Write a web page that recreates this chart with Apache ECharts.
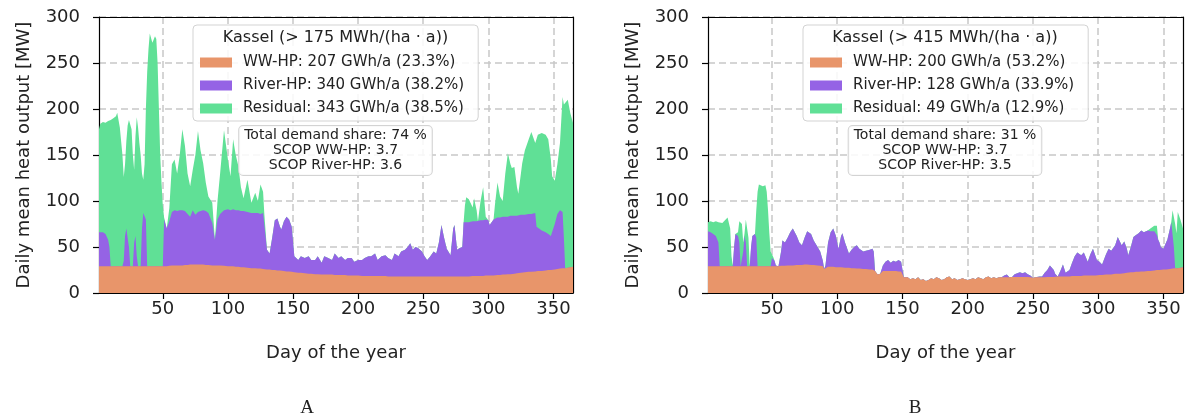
<!DOCTYPE html>
<html><head><meta charset="utf-8">
<script src="https://cdn.jsdelivr.net/npm/echarts@6/dist/echarts.min.js"></script>
<style>html,body{margin:0;padding:0;background:#fff}#c{width:1185px;height:419px}</style>
</head><body><div id="c"></div>
<script>
// ---------- Chart A: Kassel (> 175 MWh/(ha · a)) ----------
const daysA = [1,2,4,6,8,9,10,12,14,15,17,19,20,21,22,23,24,25,26,27,28,29,30,31,32,33,34,35,36,37,38,39,40,41,42,43,44,45,46,47,48,49,50,
51,53,55,57,59,61,63,65,67,69,71,73,75,77,79,81,83,85,88,90,92,94,97,100,102,104,106,108,110,112,115,118,121,123,125,127,128,
130,132,134,136,138,140,141,143,145,147,149,151,154,156,159,162,164,167,169,172,174,177,180,182,185,187,190,192,195,197,200,
203,205,208,210,213,215,218,221,223,226,228,231,233,236,238,240,242,244,246,249,251,253,255,258,260,262,264,266,268,271,273,274,276,278,280,
281,282,283,285,286,288,289,291,292,294,296,298,300,301,304,305,307,309,311,313,315,317,318,320,322,323,325,326,328,331,333,336,337,338,341,344,346,348,349,351,353,355,357,358,359,361,363,365];
const wwA = [29,29,29,29,29,29,29,29,29,29,29,29,29,29,29,29,29,29,29,29,29,29,29,29,29,29,29,29,29,29,29,29,29,29,29,29,29,29,29,29,29,29,29,
29,29,29.5,30,30,30,30,30,30.5,30.5,31,31,31,31,31,31,30.5,30.5,30,30,30,30,29.5,29,29,29,28.5,28.5,28,28,27.5,27,27,26.5,26.5,26,26,
25.5,25.5,25,25,24.5,24.5,24,24,23.5,23.5,23,22.5,22,22,21.5,21,21,20.5,20.5,20,20,20,20,19.5,19.5,19.5,19.5,19,19,19,19,
18.5,18.5,18.5,18.5,18.5,18.5,18.5,18.5,18,18,18,18,18,18,18,18,18,18,18,18,18,18,18,18,18,18,18,18,18,18,18,18,18,18,18,
18,18,18,18,18,18.5,18.5,18.5,18.5,18.5,18.5,19,19,19,19,19.5,19.5,19.5,20,20,20.5,20.5,21,21,21.5,21.5,22,22,22.5,23,23,23.5,23.5,24,24,24.5,25,25,25.5,25.5,26,26.5,27,27,27,27.5,28,28.5];
const riverA = [37,38,37,35,29,21,0,0,0,0,0,0,6,33,41,39,21,0,0,0,26,33,11,0,0,0,41,58,58,51,0,0,0,0,0,0,0,0,0,0,0,0,0,
51,41,48.5,58,60,59,60,60,58.5,55.5,52,59,54,57,58,59,58.5,56.5,46,28,50,56,60.5,62,61,62,61.5,61.5,61,61,60.5,60,60,60.5,59.5,61,59,
21.5,17.5,35,54,56.5,47.5,45,54,59.5,56.5,49,17.5,14,18,16.5,19,15,15.5,19.5,13,20,18,16,23.5,18.5,20.5,16.5,19,19,15,17,
17.5,19.5,21.5,21.5,24.5,17.5,21.5,22.5,20,18,25,22,27,29,32,36,29,32,31,27,22,18,21,27,25,37,56,42,30,23,52,56,29,31,32,
59,59,59,59,59,59.5,59.5,59.5,59.5,60.5,60.5,61,60,55,61,60.5,62.5,62.5,63,63,62.5,63.5,63,63,62.5,63.5,63,63,62.5,63,63,63.5,48.5,46,44,41.5,39,37,37.5,49.5,60,63.5,61,33,0,0,0,0];
const residualA = [112,117,120,121,129,136,159,161,163,167,151,121,91,78,95,114,138,157,149,121,79,108,151,151,134,121,60,36,53,120,211,236,253,254,243,241,250,247,221,171,121,91,66,
2,0,14,52,55,41,60,88,71,44,33,44,65,88,66,51,31,18,22,0,20,44,87,54,37,76,60,48,26,14,35,11,22,13,32,23,0,
0,0,0,0,0,0,0,0,0,0,0,0,0,0,0,0,0,0,0,0,0,0,0,0,0,0,0,0,0,0,0,
0,0,0,0,0,0,0,0,0,0,0,0,0,0,0,0,0,0,0,0,0,0,0,0,0,0,0,0,0,0,0,0,0,0,0,
0,18,27,25,23,15,25,12,0,21,36,3,0,0,0,15,38,23,17,47,69,56,52,53,31,23,45,56,70,81,89,76,93,102,106,106,103,83,64,47,54,73,125,145,176,182.5,167,156.5];

// ---------- Chart B: Kassel (> 415 MWh/(ha · a)) ----------
const daysB = [1,3,5,7,9,10,12,14,16,17,18,19,20,21,22,24,25,26,27,28,29,30,31,32,33,34,35,37,38,39,40,41,43,45,46,47,48,49,50,51,52,53,55,
57,58,60,62,64,66,67,69,71,73,75,77,78,80,82,85,87,89,90,91,93,95,97,99,101,103,104,106,109,111,113,115,117,120,122,125,127,128,129,131,133,135,137,139,141,143,145,147,149,150,151,
152,154,156,158,160,162,164,166,168,170,172,174,176,178,180,182,184,186,188,190,192,194,196,198,200,
202,204,206,208,210,212,214,216,218,220,222,224,226,228,230,232,234,236,238,240,242,244,246,248,250,
252,255,257,259,261,263,264,266,267,269,271,273,275,276,278,280,282,284,285,287,289,290,292,294,296,298,299,
301,303,304,306,308,310,311,313,315,317,318,320,322,323,325,327,329,331,333,335,336,338,
340,341,343,345,346,347,348,350,352,353,355,356,357,358,359,360,361,362,363,365];
const wwB = [29,29,29,29,29,29,29,29,29,29,29,29,29,29,29,29,29,29,29,29,29,29,29,29,29,29,29,29,29,29,29,29,29,29,29,29,29,29,29,29,29,29,29,
29.5,29.5,29.5,30,30,30,30,30.5,30.5,30.5,31,31,31,30.5,30.5,30,29.5,29,26,28,28.5,28.5,28.5,28,28,28,28,27.5,27.5,27,27,26.5,26.5,26,26,25.5,25.5,25,24,20,21,24,24,24,24,24,24,23.5,23.5,23,17,
16,17,15,16,15,17,14,15,13,14,16,15,17,16,14,15,17,18,15,16,14,15,16,15,14,
15,16,15,17,16,15,17,18,16,17,16,17,17,17,17,17,17.5,17.5,17.5,17.5,17.5,17.5,17.5,17,16.5,
17,17,17,17,17.5,17.5,17.5,17.5,17.5,18,18,18,18,18,18,18.5,18.5,18.5,18.5,18.5,19,19,19,19,19,19,19,
19.5,19.5,19.5,20,20,20,20.5,21,21,21,21.5,21.5,22,22,22.5,22.5,23,23,23.5,23.5,24,24,
24,24.5,24.5,25,25,25,25,25.5,25.5,26,26,26,26.5,26.5,27,27,27,27.5,27.5,28];
const riverB = [38,37,35,33,26,0,0,0,0,0,0,0,0,21,35,33,26,0,0,16,33,26,0,0,0,21,33,35,31,0,0,0,0,0,0,0,0,0,9,10,6,1,0,
15.5,27.5,25.5,30,36,40,40,31.5,24.5,21.5,29,36,38,33.5,26.5,20,15.5,6,0,2,26.5,37.5,41.5,34,20,34,37,27.5,15.5,20,23,25.5,21.5,19,20,21.5,22.5,20,0,0,0,6,10,12,9,11,10,12.5,10.5,10,0,
0,0,0,0,0,0,0,0,0,0,0,0,0,0,0,0,0,0,0,0,0,0,0,0,0,
0,0,0,0,0,0,0,0,0,0,0,0,0,2,3,0,0,3,4,5,4,5,3,2,0,
0,1,1,5,7.5,12.5,14.5,7.5,3.5,0,6,13,4,2,7,14.5,21.5,25.5,26.5,22.5,25,26,15,23,29,21,17,
14.5,11.5,11.5,22,28,26,24.5,31,40,34,30.5,34.5,26,19,27.5,38.5,40,42,44.5,42.5,40,44,
43,41.5,42.5,38,33,30,25,22.5,29.5,32,44,51,48.5,23.5,0,0,0,0,0,0];
const residualB = [10,12,13,16,22,49,47,50,53,54,41,11,1,0,0,4,23,50,46,10,3,25,53,31,0,0,0,0,30,81,89,90,87,88,81,61,36,16,4,0,0,0,0,
0,0,0,0,0,0,0,0,0,0,0,0,0,0,0,0,0,0,0,0,0,0,0,0,0,0,0,0,0,0,0,0,0,0,0,0,0,0,0,0,0,0,0,0,0,0,0,0,0,0,0,
0,0,0,0,0,0,0,0,0,0,0,0,0,0,0,0,0,0,0,0,0,0,0,0,0,
0,0,0,0,0,0,0,0,0,0,0,0,0,0,0,0,0,0,0,0,0,0,0,0,0,
0,0,0,0,0,0,0,0,0,0,0,0,0,0,0,0,0,0,0,0,0,0,0,0,0,0,0,
0,0,0,0,0,0,0,0,0,0,0,0,0,0,0,0,0,0,0,0,0,0,
3,6,6,10,0,0,0,0,0,0,0,0,15,38,48,38,61,58.5,52.5,42];

// ---------- labels ----------
const xTicks = [50,100,150,200,250,300,350];
const namesA = ['WW-HP: 207 GWh/a (23.3%)','River-HP: 340 GWh/a (38.2%)','Residual: 343 GWh/a (38.5%)'];
const namesB = ['WW-HP: 200 GWh/a (53.2%)','River-HP: 128 GWh/a (33.9%)','Residual: 49 GWh/a (12.9%)'];
const titleA = 'Kassel (> 175 MWh/(ha · a))';
const titleB = 'Kassel (> 415 MWh/(ha · a))';
const noteA = 'Total demand share: 74 %\nSCOP WW-HP: 3.7\nSCOP River-HP: 3.6';
const noteB = 'Total demand share: 31 %\nSCOP WW-HP: 3.7\nSCOP River-HP: 3.5';
const panelLabels = ['A','B'];

[[daysA,wwA,riverA,residualA],[daysB,wwB,riverB,residualB]].forEach((g,k)=>{
  g.forEach((a,i)=>{ if(a.length!==g[0].length) throw new Error('length mismatch chart '+k+' arr '+i+': '+a.length+' vs '+g[0].length); });
});

const FONT = 'DejaVu Sans';
const COLORS = ['#E8956A','#9563E5','#60E096'];

// cumulative stack tops (drawn back to front, each area filled down to 0)
function stackTops(arrs){
  const out = []; let run = arrs[0].map(()=>0);
  arrs.forEach(a=>{ run = run.map((v,i)=>v+a[i]); out.push(run.slice()); });
  return out;
}

function xAxes(grid){
  return [
    {type:'value', gridIndex:grid, min:1, max:365, position:'bottom',
     name:'Day of the year', nameLocation:'middle', nameGap:51,
     nameTextStyle:{fontFamily:FONT,fontSize:18,color:'#222'},
     axisLine:{show:true,onZero:false,lineStyle:{color:'#000',width:1.2}},
     axisTick:{show:true,length:6,customValues:xTicks,lineStyle:{color:'#000',width:1.2}},
     axisLabel:{customValues:xTicks,fontFamily:FONT,fontSize:18,color:'#222',margin:7},
     splitLine:{show:true,lineStyle:{color:'#c8c8c8',width:1.5,type:[7,4]}}},
    {type:'value', gridIndex:grid, min:1, max:365, position:'top',
     axisLine:{show:true,onZero:false,lineStyle:{color:'#000',width:1.2}},
     axisTick:{show:false},axisLabel:{show:false},splitLine:{show:false}}
  ];
}
function yAxes(grid){
  return [
    {type:'value', gridIndex:grid, min:0, max:300, interval:50, position:'left',
     name:'Daily mean heat output [MW]', nameLocation:'middle', nameGap:66,
     nameTextStyle:{fontFamily:FONT,fontSize:18,color:'#222'},
     axisLine:{show:true,lineStyle:{color:'#000',width:1.2}},
     axisTick:{show:true,length:6,lineStyle:{color:'#000',width:1.2}},
     axisLabel:{fontFamily:FONT,fontSize:18,color:'#222',margin:19},
     splitLine:{show:true,lineStyle:{color:'#c8c8c8',width:1.5,type:[7,4]}}},
    {type:'value', gridIndex:grid, min:0, max:300, interval:50, position:'right',
     axisLine:{show:true,lineStyle:{color:'#000',width:1.2}},
     axisTick:{show:false},axisLabel:{show:false},splitLine:{show:false}}
  ];
}
function areaSeries(names, days, arrs, xi, yi){
  const tops = stackTops(arrs);
  const s = names.map((n,i)=>({
    name:n, type:'line', xAxisIndex:xi, yAxisIndex:yi,
    data: days.map((d,j)=>[d, tops[i][j]]), symbol:'none', showSymbol:false, silent:true,
    lineStyle:{width:0}, itemStyle:{color:COLORS[i]},
    areaStyle:{color:COLORS[i],opacity:1}, z:2
  }));
  return s.reverse();
}
function legend(names, left){
  return {data:names, orient:'vertical', left:left, top:25, icon:'rect',
    itemWidth:32, itemHeight:10, itemGap:8, padding:[30,14,5,7],
    backgroundColor:'rgba(255,255,255,0.85)', borderColor:'#d3d3d3', borderWidth:1, borderRadius:4,
    selectedMode:false, textStyle:{fontFamily:FONT,fontSize:15,color:'#222',padding:[0,0,0,6]}};
}
function texts(title, note, cx){
  return [
    {type:'text', z:100, x:cx, y:38, style:{text:title, fontFamily:FONT, fontSize:16, fill:'#222', align:'center', verticalAlign:'middle'}},
    {type:'text', z:100, x:cx, y:126, style:{text:note, fontFamily:FONT, fontSize:14, lineHeight:15, fill:'#222', align:'center', verticalAlign:'top',
      backgroundColor:'rgba(255,255,255,0.85)', borderColor:'#d3d3d3', borderWidth:1, borderRadius:4, padding:[2,5]}}
  ];
}

const chart = echarts.init(document.getElementById('c'), null, {renderer:'canvas'});
chart.setOption({
  animation:false,
  backgroundColor:'#fff',
  grid:[{left:99, right:612, top:17, bottom:126},{left:708, right:2, top:17, bottom:126}],
  xAxis:[...xAxes(0), ...xAxes(1)],
  yAxis:[...yAxes(0), ...yAxes(1)],
  legend:[legend(namesA,193), legend(namesB,803)],
  series:[...areaSeries(namesA, daysA, [wwA,riverA,residualA], 0, 0),
          ...areaSeries(namesB, daysB, [wwB,riverB,residualB], 2, 2)],
  graphic:[...texts(titleA, noteA, 335.5), ...texts(titleB, noteB, 945),
    {type:'text', x:307, y:408, style:{text:panelLabels[0], fontFamily:'Liberation Serif', fontSize:19, fill:'#222', align:'center', verticalAlign:'middle'}},
    {type:'text', x:915, y:408, style:{text:panelLabels[1], fontFamily:'Liberation Serif', fontSize:19, fill:'#222', align:'center', verticalAlign:'middle'}}]
});
</script></body></html>
